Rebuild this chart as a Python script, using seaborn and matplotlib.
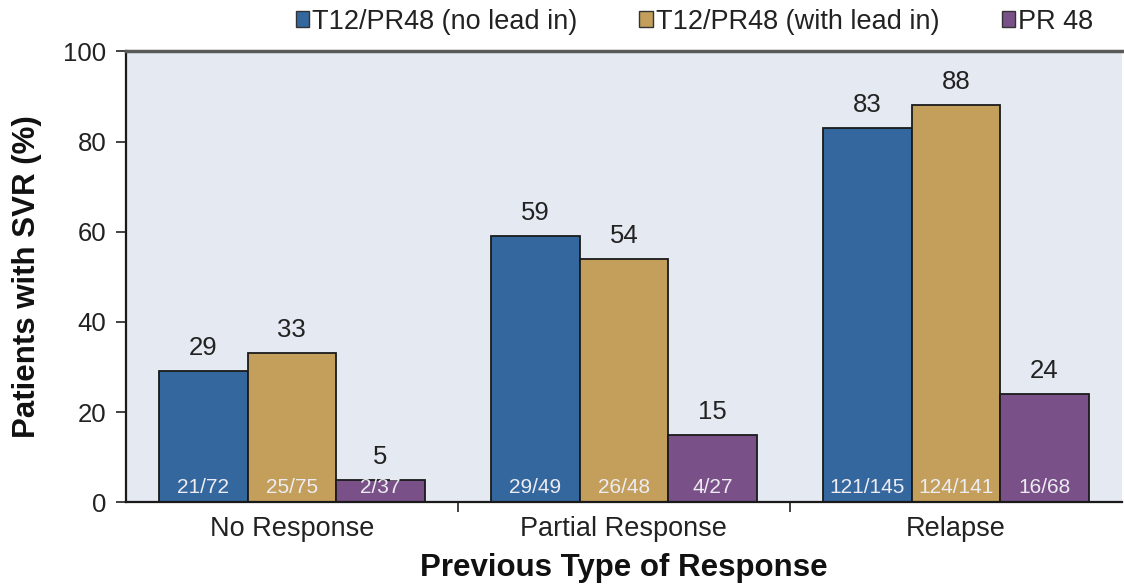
import matplotlib
matplotlib.use("Agg")
import matplotlib.pyplot as plt
import seaborn as sns
import pandas as pd
from matplotlib.patches import Patch

# --- data ---
categories = ["No Response", "Partial Response", "Relapse"]
series = ["T12/PR48 (no lead in)", "T12/PR48 (with lead in)", "PR 48"]
svr_no_lead = [29, 59, 83]
svr_with_lead = [33, 54, 88]
svr_pr48 = [5, 15, 24]
frac_no_lead = ["21/72", "29/49", "121/145"]
frac_with_lead = ["25/75", "26/48", "124/141"]
frac_pr48 = ["2/37", "4/27", "16/68"]
y_ticks = [0, 20, 40, 60, 80, 100]

colors = {series[0]: "#34679E", series[1]: "#C39F5B", series[2]: "#7A5089"}

rows = []
for name, vals, fracs in zip(series, [svr_no_lead, svr_with_lead, svr_pr48],
                             [frac_no_lead, frac_with_lead, frac_pr48]):
    for cat, v, f in zip(categories, vals, fracs):
        rows.append({"category": cat, "series": name, "svr": v, "frac": f})
df = pd.DataFrame(rows)

sns.set_style("white")
plt.rcParams["font.family"] = ["Liberation Sans", "DejaVu Sans"]

fig = plt.figure(figsize=(11.24, 5.84), dpi=100)
ax = fig.add_axes([0.112, 0.14, 0.886, 0.772])
ax.set_facecolor("#E4E9F2")

sns.barplot(data=df, x="category", y="svr", hue="series", order=categories,
            hue_order=series, palette=colors, width=0.8, edgecolor="#1a1a1a",
            linewidth=1.3, saturation=1, legend=False, ax=ax)

# value labels above, fractions inside at the base
for container, name in zip(ax.containers, series):
    sub = df[df["series"] == name].set_index("category").loc[categories]
    ax.bar_label(container, labels=[str(v) for v in sub["svr"]], padding=8,
                 fontsize=18.5, color="#222222")
    for bar, f in zip(container, sub["frac"]):
        ax.text(bar.get_x() + bar.get_width() / 2, 2.0, f, ha="center",
                va="baseline", fontsize=15, color="#ECECF2")

ax.set_xlim(-0.5, 2.5)
ax.set_ylim(0, 100)
ax.set_yticks(y_ticks)
ax.tick_params(axis="y", labelsize=18.5, length=7, width=1.2, pad=7,
               direction="out", left=True, colors="#222222")
ax.set_xticks([0.5, 1.5], minor=True)
ax.tick_params(axis="x", which="major", length=0, labelsize=19.5, pad=10,
               colors="#222222")
ax.tick_params(axis="x", which="minor", length=7, width=1.2, direction="out",
               bottom=True, color="#222222")

ax.set_xlabel("Previous Type of Response", fontsize=22.5, fontweight="bold",
              labelpad=8, color="#111111")
ax.set_ylabel("Patients with SVR (%)", fontsize=22.5, fontweight="bold",
              labelpad=15, color="#111111")

for side in ["left", "bottom"]:
    ax.spines[side].set_color("#1a1a1a")
    ax.spines[side].set_linewidth(1.6)
ax.spines["top"].set_color("#5a5a5a")
ax.spines["top"].set_linewidth(2.5)
ax.spines["right"].set_visible(False)

handles = [Patch(facecolor=colors[s], edgecolor="#333333", label=s) for s in series]
fig.legend(handles=handles, loc="upper right", bbox_to_anchor=(0.994, 1.027),
           ncol=3, frameon=False, fontsize=19.5, handlelength=0.5,
           handleheight=0.5, handletextpad=0.1, columnspacing=2.3,
           labelcolor="#222222")

fig.savefig("out.png", dpi=100)
